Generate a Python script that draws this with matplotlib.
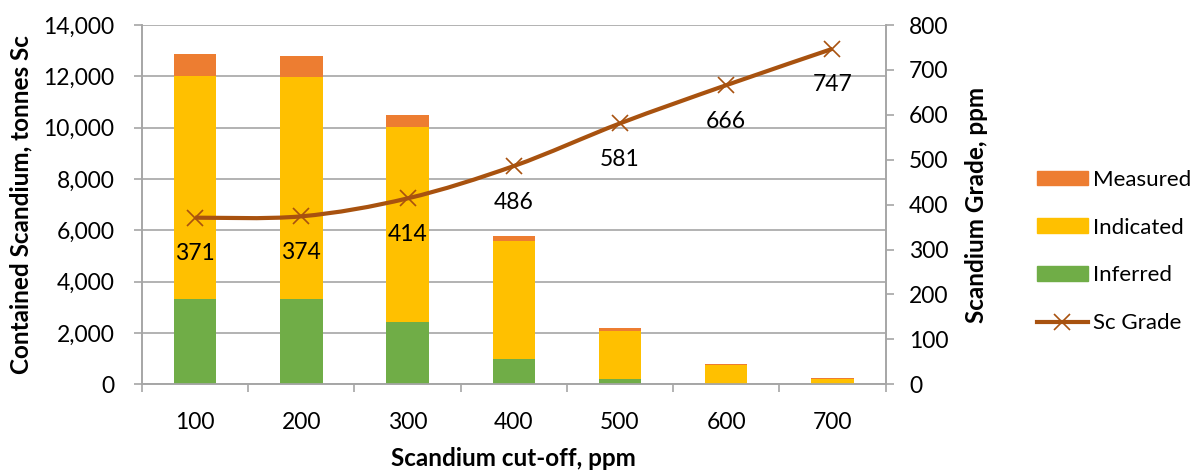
import numpy as np
import matplotlib
matplotlib.use("Agg")
import matplotlib.pyplot as plt
from matplotlib.path import Path
from matplotlib.patches import PathPatch, Patch
from matplotlib.lines import Line2D
from matplotlib.ticker import FuncFormatter

plt.rcParams['font.family'] = ['Lato', 'DejaVu Sans']

# Resource by cut-off grade (tonnes Sc) and average grade (ppm)
cutoffs = ['100', '200', '300', '400', '500', '600', '700']
inferred = [3340, 3340, 2440, 1000, 220, 25, 5]
indicated = [8660, 8650, 7590, 4570, 1860, 715, 205]
measured = [860, 800, 460, 220, 105, 60, 25]
sc_grade = [371, 374, 414, 486, 581, 666, 747]

c_meas = '#ED7D31'
c_ind = '#FFC000'
c_inf = '#70AD47'
c_line = '#A8520F'
c_axis = '#A6A6A6'
fs = 16.5
fs_title = 17.5

fig = plt.figure(figsize=(12.04, 4.70), dpi=100)
ax = fig.add_axes([0.118, 0.1823, 0.6175, 0.7645])
ax2 = ax.twinx()

x = np.arange(len(cutoffs))
w = 0.4
inferred = np.array(inferred)
indicated = np.array(indicated)
measured = np.array(measured)
ax.bar(x, inferred, w, color=c_inf, edgecolor='none', zorder=3)
ax.bar(x, indicated, w, bottom=inferred, color=c_ind, edgecolor='none', zorder=3)
ax.bar(x, measured, w, bottom=inferred + indicated, color=c_meas, edgecolor='none', zorder=3)

ax.set_xlim(-0.5, len(cutoffs) - 0.5)
ax.set_ylim(0, 14000)
ax.set_yticks(np.arange(0, 14001, 2000))
ax.yaxis.set_major_formatter(FuncFormatter(lambda v, p: f'{int(v):,}'))
ax.grid(axis='y', color=c_axis, linewidth=1.2, zorder=0)
ax.set_axisbelow(True)

ax.set_xticks(x)
ax.set_xticklabels(cutoffs)
ax.set_xticks(np.arange(-0.5, len(cutoffs)), minor=True)
ax.tick_params(axis='x', which='major', length=0, pad=20, labelsize=fs)
ax.tick_params(axis='x', which='minor', length=6, color=c_axis, width=1.2)
ax.tick_params(axis='y', length=6, color=c_axis, width=1.2, pad=14, labelsize=fs)

for a in (ax, ax2):
    a.spines['top'].set_visible(False)
    for s in ('left', 'right', 'bottom'):
        a.spines[s].set_color(c_axis)
        a.spines[s].set_linewidth(1.2)

ax.set_xlabel('Scandium cut-off, ppm', fontsize=fs_title, fontweight='bold', labelpad=10)
ax.set_ylabel('Contained Scandium, tonnes Sc', fontsize=fs_title, fontweight='bold', labelpad=8)

# grade on secondary axis, smoothed curve through the points
ax2.set_ylim(0, 800)
ax2.set_yticks(np.arange(0, 801, 100))
ax2.tick_params(axis='y', length=6, color=c_axis, width=1.2, pad=11, labelsize=fs)
ax2.set_ylabel('Scandium Grade, ppm', fontsize=fs_title, fontweight='bold', labelpad=12)

pts = np.column_stack([x, sc_grade]).astype(float)
ext = np.vstack([pts[0], pts, pts[-1]])
verts = [pts[0]]
codes = [Path.MOVETO]
for i in range(len(pts) - 1):
    p0, p1, p2, p3 = ext[i], ext[i + 1], ext[i + 2], ext[i + 3]
    verts += [p1 + (p2 - p0) / 6, p2 - (p3 - p1) / 6, p2]
    codes += [Path.CURVE4] * 3
ax2.add_patch(PathPatch(Path(verts, codes), facecolor='none', edgecolor=c_line,
                        linewidth=3, zorder=4))
ax2.plot(x, sc_grade, linestyle='none', marker='x', markersize=11,
         markeredgewidth=1.2, color=c_line, zorder=5)

for xi, g in zip(x, sc_grade):
    ax2.annotate(str(g), (xi, g), xytext=(0, -36), textcoords='offset pixels',
                 ha='center', va='center', fontsize=fs, color='black', zorder=6)

handles = [Patch(color=c_meas), Patch(color=c_ind), Patch(color=c_inf),
           Line2D([], [], color=c_line, linewidth=3, marker='x', markersize=11,
                  markeredgewidth=1.2)]
fig.legend(handles, ['Measured', 'Indicated', 'Inferred', 'Sc Grade'],
           loc='center left', bbox_to_anchor=(0.861, 0.465), frameon=False,
           fontsize=16, handlelength=2.3, handleheight=0.65, handletextpad=0.25,
           labelspacing=1.25, borderpad=0, borderaxespad=0)

fig.savefig('out.png', dpi=100)
